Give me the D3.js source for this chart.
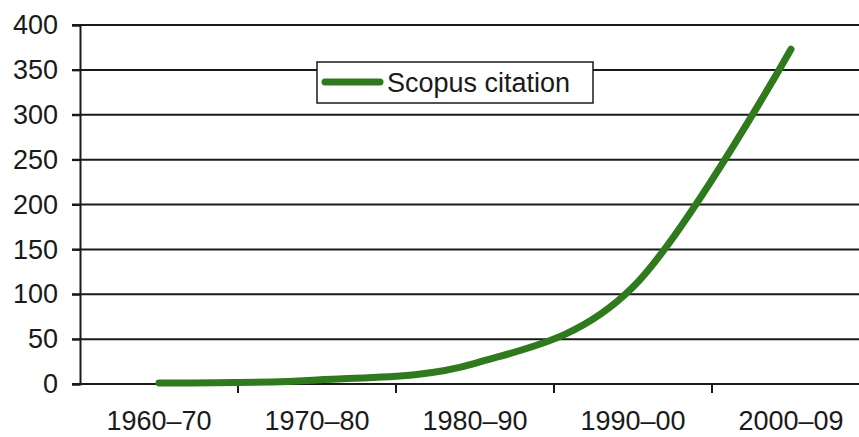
<!DOCTYPE html>
<html><head><meta charset="utf-8">
<script src="https://cdn.jsdelivr.net/npm/d3@7"></script>
<style>body{margin:0;background:#fff}svg{display:block}</style>
</head><body>
<svg id="c" width="859" height="437"></svg>
<script>
const categories = ["1960–70","1970–80","1980–90","1990–00","2000–09"];
const citations = [1, 4.5, 23, 108, 373];
const yTicks = [0,50,100,150,200,250,300,350,400];
const seriesName = "Scopus citation";

(function(){
const svg = d3.select("#c");
const W = 859, H = 437;
const mLeft = 80, mRight = 870, mTop = 25, mBottom = 384;
const font = "'Liberation Sans', Arial, sans-serif";
const green = "#2e7a1c";

const x = d3.scaleBand().domain(categories).range([mLeft, mRight]);
const y = d3.scaleLinear().domain([0, 400]).range([mBottom, mTop]);

// gridlines
svg.append("g").selectAll("line").data(yTicks).join("line")
  .attr("x1", mLeft - 8).attr("x2", W).attr("y1", d => y(d)).attr("y2", d => y(d))
  .attr("stroke", "#1a1a1a").attr("stroke-width", 2);

// y axis
const ya = svg.append("g").attr("transform", `translate(${mLeft},0)`)
  .call(d3.axisLeft(y).tickValues(yTicks).tickSize(8).tickPadding(14));
ya.select(".domain").attr("stroke", "#1a1a1a").attr("stroke-width", 2);
ya.selectAll("line").attr("stroke", "#1a1a1a").attr("stroke-width", 2);
ya.selectAll("text").attr("font-family", font).attr("font-size", 27).attr("fill", "#1a1a1a");

// x axis ticks at band boundaries
const xa = svg.append("g").attr("transform", `translate(0,${mBottom})`)
  .call(d3.axisBottom(x).tickSize(0).tickPadding(27));
xa.select(".domain").remove();
xa.selectAll("text").attr("font-family", font).attr("font-size", 27).attr("fill", "#1a1a1a");
svg.append("g").selectAll("line").data(categories.slice(1)).join("line")
  .attr("x1", d => x(d)).attr("x2", d => x(d))
  .attr("y1", mBottom).attr("y2", mBottom + 9)
  .attr("stroke", "#1a1a1a").attr("stroke-width", 2);

// line
const pts = categories.map((c, i) => [x(c) + x.bandwidth() / 2, y(citations[i])]);
svg.append("path").attr("d", d3.line().curve(d3.curveCardinal.tension(0))(pts))
  .attr("fill", "none").attr("stroke", green).attr("stroke-width", 7)
  .attr("stroke-linecap", "round");

// legend
const lg = svg.append("g");
lg.append("rect").attr("x", 317).attr("y", 62).attr("width", 276).attr("height", 41)
  .attr("fill", "#fff").attr("stroke", "#1a1a1a").attr("stroke-width", 1.5);
lg.append("line").attr("x1", 325).attr("x2", 380).attr("y1", 82).attr("y2", 82)
  .attr("stroke", green).attr("stroke-width", 7).attr("stroke-linecap", "round");
lg.append("text").attr("x", 387).attr("y", 92).text(seriesName)
  .attr("font-family", font).attr("font-size", 27).attr("fill", "#1a1a1a");
})();
</script>
</body></html>
